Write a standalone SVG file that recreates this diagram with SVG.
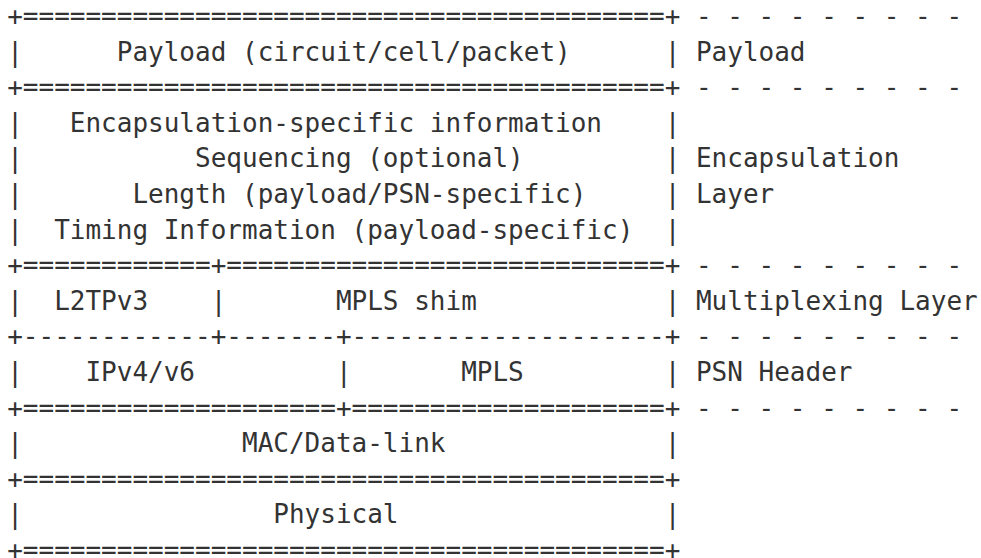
<svg xmlns="http://www.w3.org/2000/svg" width="981" height="558" viewBox="0 0 981 558" xml:space="preserve">
<style>
text { font-family: "DejaVu Sans Mono", "Liberation Mono", monospace; font-size: 26px; fill: #333333; white-space: pre; }
</style>
<rect x="0" y="0" width="981" height="558" fill="#ffffff"/>
<g id="separators">
<text x="7.2" y="25">+=========================================+ - - - - - - - - - -</text>
<text x="7.2" y="96.2">+=========================================+ - - - - - - - - - -</text>
<text x="7.2" y="274.2">+============+============================+ - - - - - - - - - -</text>
<text x="7.2" y="345.4">+------------+-------+--------------------+ - - - - - - - - - -</text>
<text x="7.2" y="416.6">+====================+====================+ - - - - - - - - - -</text>
<text x="7.2" y="487.8">+=========================================+</text>
<text x="7.2" y="559">+=========================================+</text>
</g>
<g id="payload">
<text x="7.2" y="60.6">|      Payload (circuit/cell/packet)      | Payload</text>
</g>
<g id="encapsulation">
<text x="7.2" y="131.8">|   Encapsulation-specific information    |</text>
<text x="7.2" y="167.4">|           Sequencing (optional)         | Encapsulation</text>
<text x="7.2" y="203">|       Length (payload/PSN-specific)     | Layer</text>
<text x="7.2" y="238.6">|  Timing Information (payload-specific)  |</text>
</g>
<g id="multiplexing">
<text x="7.2" y="309.8">|  L2TPv3    |       MPLS shim            | Multiplexing Layer</text>
</g>
<g id="psn-header">
<text x="7.2" y="381">|    IPv4/v6         |       MPLS         | PSN Header</text>
</g>
<g id="mac">
<text x="7.2" y="452.2">|              MAC/Data-link              |</text>
</g>
<g id="physical">
<text x="7.2" y="523.4">|                Physical                 |</text>
</g>
</svg>
